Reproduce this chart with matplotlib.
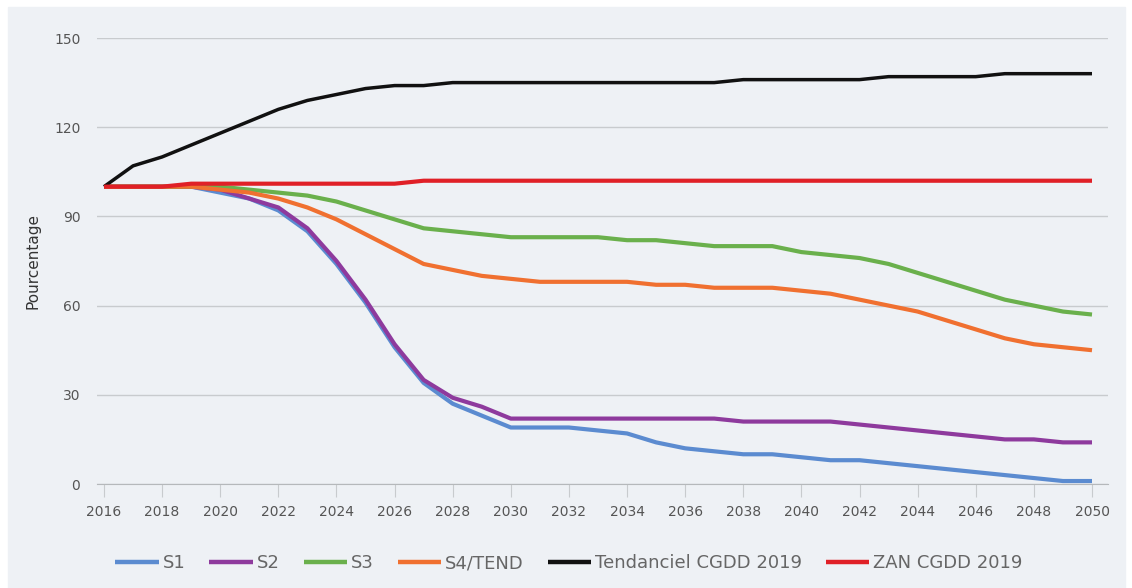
import matplotlib.pyplot as plt
import matplotlib.patches as mpatches
import numpy as np

# Data
years = np.arange(2016, 2051)
s1 = [100, 100, 100, 100, 98, 96, 92, 85, 74, 61, 46, 34, 27, 23, 19, 19, 19, 18, 17, 14,
      12, 11, 10, 10, 9, 8, 8, 7, 6, 5, 4, 3, 2, 1, 1]
s2 = [100, 100, 100, 100, 99, 96, 93, 86, 75, 62, 47, 35, 29, 26, 22, 22, 22, 22, 22, 22,
      22, 22, 21, 21, 21, 21, 20, 19, 18, 17, 16, 15, 15, 14, 14]
s3 = [100, 100, 100, 100, 100, 99, 98, 97, 95, 92, 89, 86, 85, 84, 83, 83, 83, 83, 82, 82,
      81, 80, 80, 80, 78, 77, 76, 74, 71, 68, 65, 62, 60, 58, 57]
s4 = [100, 100, 100, 100, 99, 98, 96, 93, 89, 84, 79, 74, 72, 70, 69, 68, 68, 68, 68, 67,
      67, 66, 66, 66, 65, 64, 62, 60, 58, 55, 52, 49, 47, 46, 45]
tend = [100, 107, 110, 114, 118, 122, 126, 129, 131, 133, 134, 134, 135, 135, 135, 135, 135, 135, 135, 135,
        135, 135, 136, 136, 136, 136, 136, 137, 137, 137, 137, 138, 138, 138, 138]
zan = [100, 100, 100, 101, 101, 101, 101, 101, 101, 101, 101, 102, 102, 102, 102, 102, 102, 102, 102, 102,
       102, 102, 102, 102, 102, 102, 102, 102, 102, 102, 102, 102, 102, 102, 102]

series = [
    ("S1", s1, "#5b8bd0"),
    ("S2", s2, "#8e3a9d"),
    ("S3", s3, "#6ab04c"),
    ("S4/TEND", s4, "#f07030"),
    ("Tendanciel CGDD 2019", tend, "#111111"),
    ("ZAN CGDD 2019", zan, "#e02027"),
]

fig = plt.figure(figsize=(11.32, 5.88), dpi=100, facecolor="white")
# light panel behind the chart
fig.patches.append(mpatches.Rectangle((8 / 1132, 0), 1117 / 1132, 581 / 588,
                                      transform=fig.transFigure, color="#eef1f5", zorder=-5))

ax = fig.add_axes([97 / 1132, 104 / 588, 1011 / 1132, 446 / 588])
ax.set_facecolor("none")

for name, vals, col in series:
    ax.plot(years, vals, color=col, lw=3 if name != "Tendanciel CGDD 2019" else 2.5,
            label=name, solid_capstyle="butt")

ax.set_xlim(2016 - 7 / 29.06, 2050 + 16 / 29.06)
ax.set_ylim(0, 150)
ax.set_yticks([0, 30, 60, 90, 120, 150])
ax.set_xticks(np.arange(2016, 2051, 2))
ax.grid(axis="y", color="#c8cbce", lw=1)
ax.set_axisbelow(True)
for side in ["top", "right", "left"]:
    ax.spines[side].set_visible(False)
ax.spines["bottom"].set_color("#b5b8bb")
ax.tick_params(axis="x", length=9, color="#c8cbce", labelsize=10, labelcolor="#555555", pad=6)
ax.tick_params(axis="y", length=0, labelsize=10, labelcolor="#555555", pad=12)
ax.set_ylabel("Pourcentage", fontsize=11, color="#333333", labelpad=10)

leg = fig.legend(loc="center", bbox_to_anchor=(569 / 1132, 1 - 563 / 588), ncol=6, frameon=False,
                 fontsize=13, labelcolor="#666666", handlelength=2.4, handletextpad=0.22,
                 columnspacing=1.33)
for h in leg.get_lines():
    h.set_linewidth(3.2)

fig.savefig("out.png", dpi=100, facecolor=fig.get_facecolor())
